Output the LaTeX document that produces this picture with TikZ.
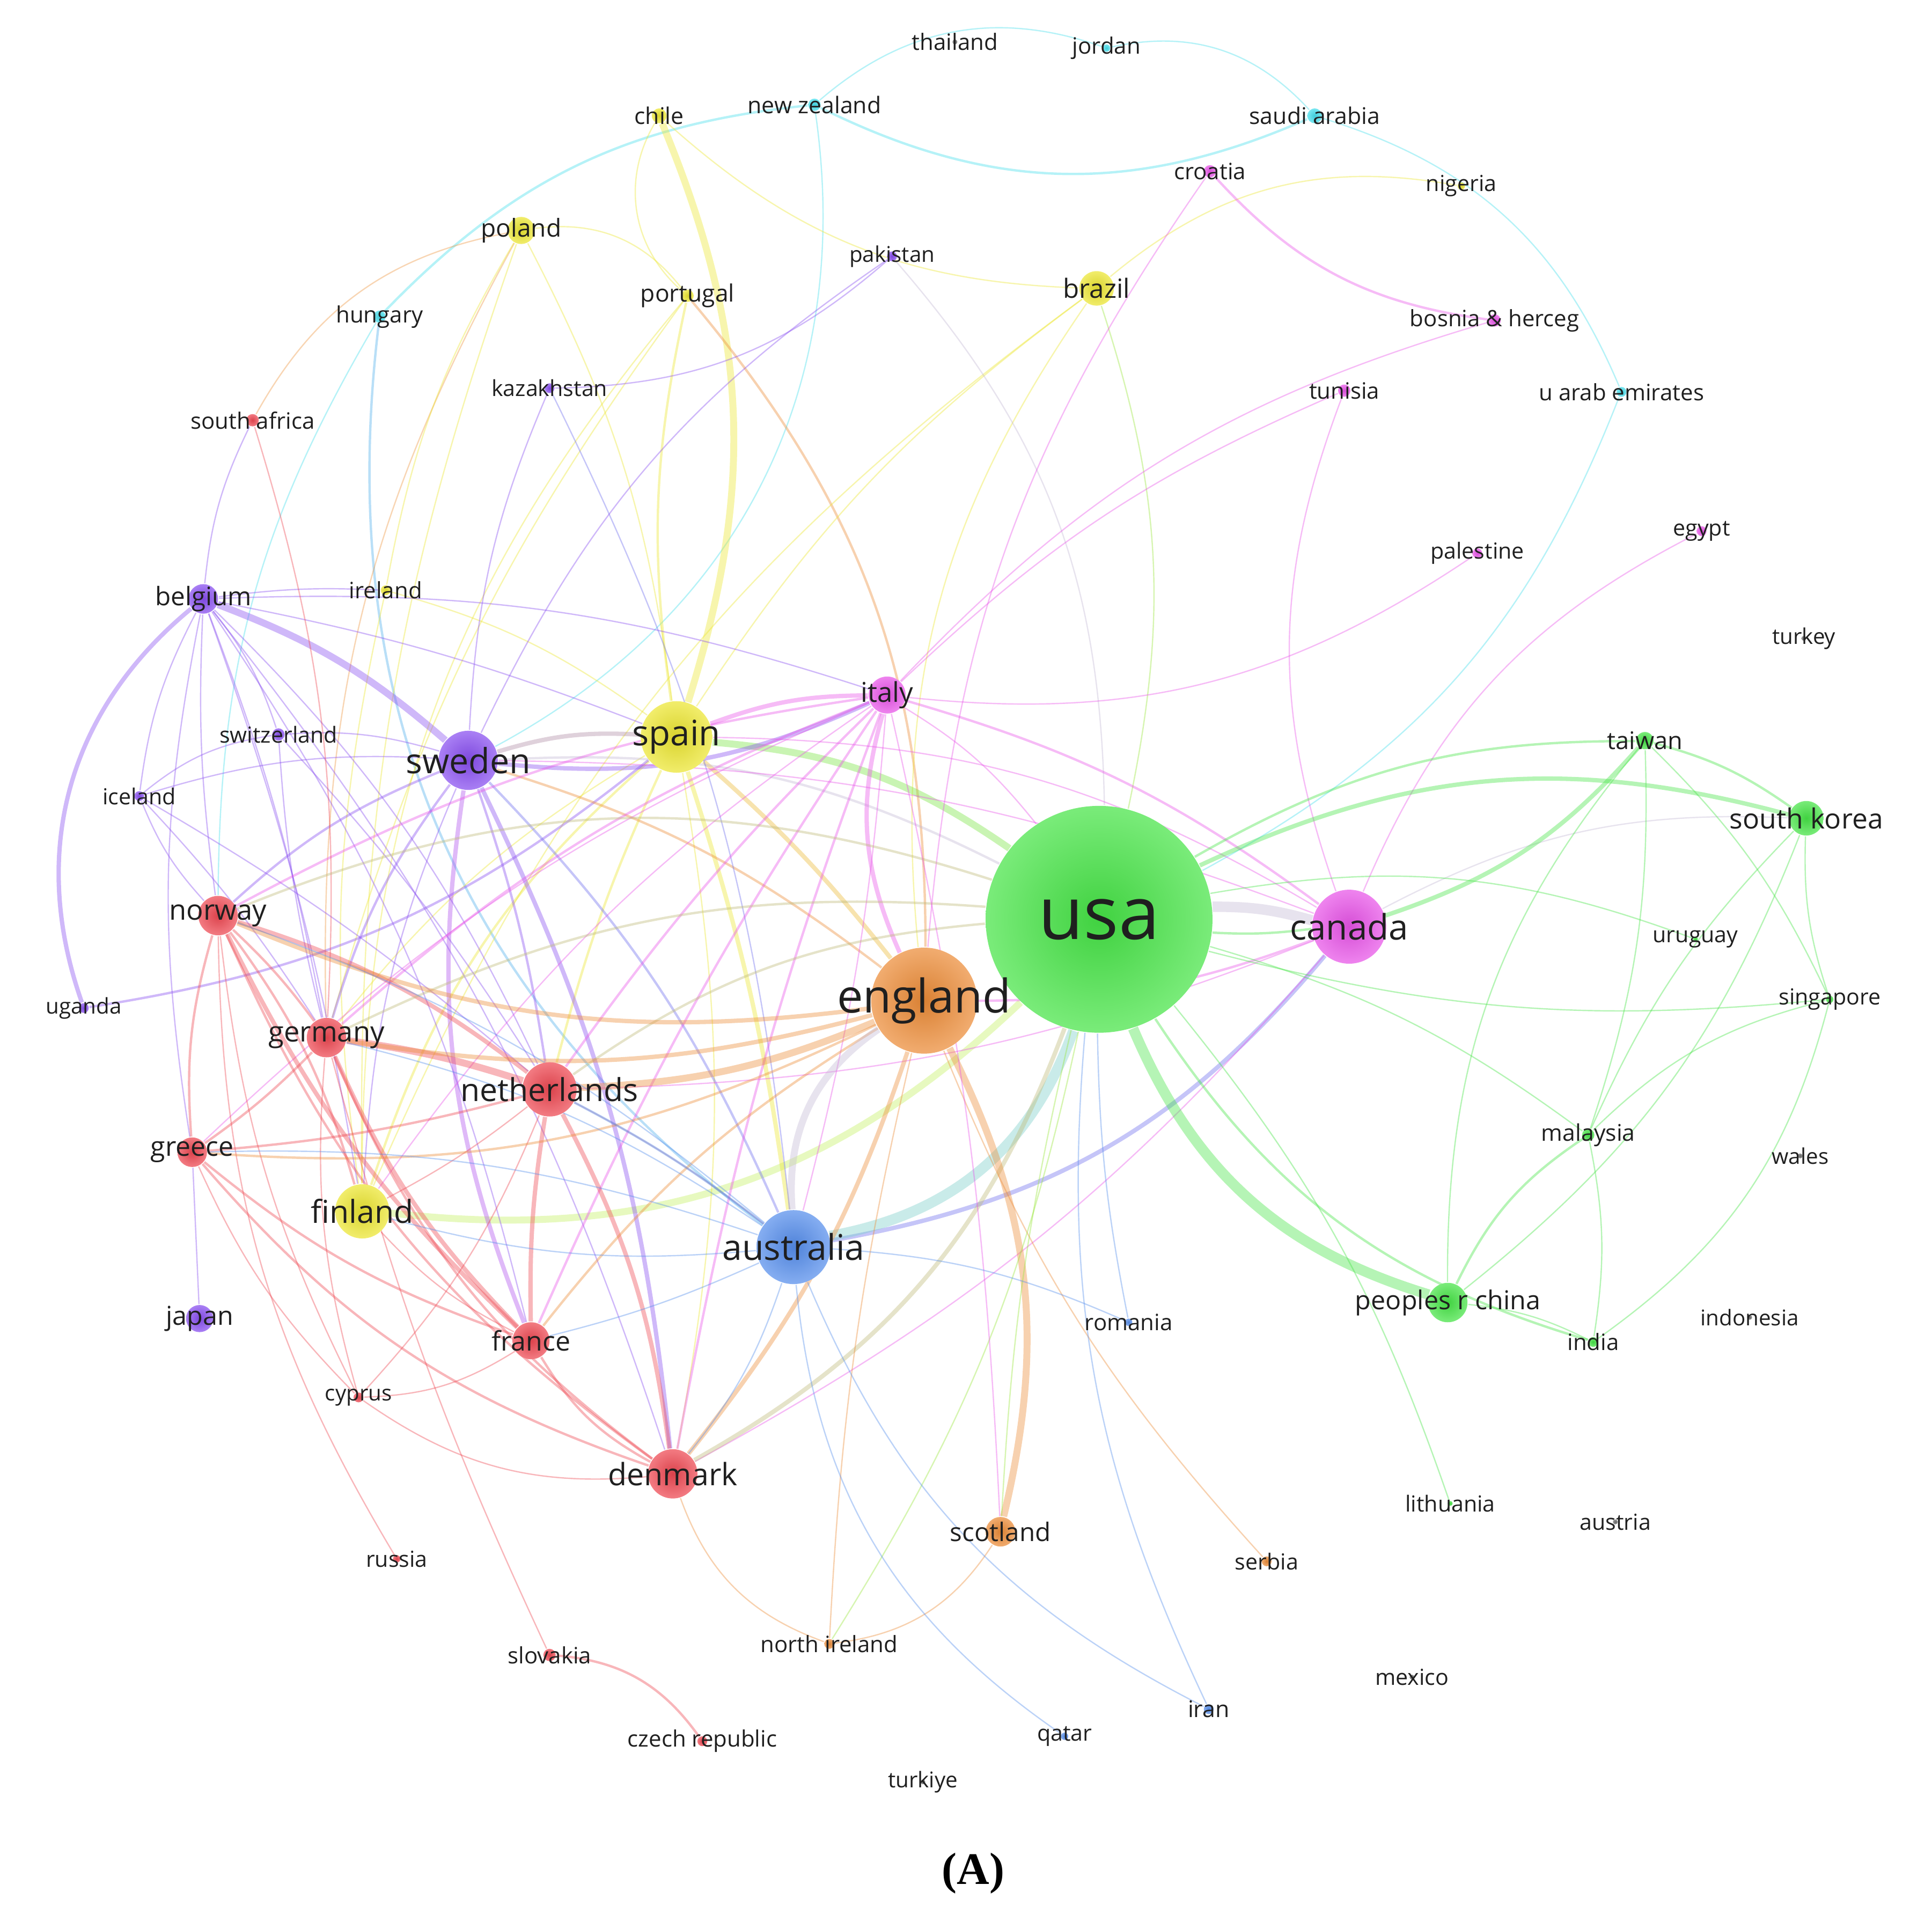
\documentclass[tikz,border=0pt]{standalone}
\usepackage{fontspec}
\setmainfont{Open Sans}
\newfontfamily\capfont{Liberation Serif}
\usetikzlibrary{positioning}
\definecolor{cR}{RGB}{238,72,82}
\definecolor{cG}{RGB}{70,228,70}
\definecolor{cB}{RGB}{86,142,236}
\definecolor{cY}{RGB}{236,230,50}
\definecolor{cP}{RGB}{136,78,240}
\definecolor{cC}{RGB}{70,222,236}
\definecolor{cO}{RGB}{236,140,56}
\definecolor{cM}{RGB}{232,84,232}
\definecolor{cK}{RGB}{110,110,110}
\definecolor{cGray}{RGB}{196,186,212}
\definecolor{cTeal}{RGB}{120,206,200}
\definecolor{cChar}{RGB}{196,240,96}
\definecolor{cOlive}{RGB}{190,186,120}
\pgfdeclarelayer{edges}
\pgfsetlayers{edges,main}

\begin{document}
\begin{tikzpicture}[x=0.01cm, y=-0.01cm,
  cn/.style 2 args={circle, draw=none, inner sep=0pt, minimum size=#1,
    shading=radial, inner color=#2!92!black, outer color=#2!72!white},
  lb/.style={font=\fontsize{#1}{#1}\selectfont, text=black!88, inner sep=0pt,
    minimum size=0pt, fill opacity=1, text opacity=1},
  e1/.style={line width=0.3pt},
  e2/.style={line width=0.55pt},
  e3/.style={line width=1pt},
  e4/.style={line width=1.6pt},
  e5/.style={line width=2.4pt}
]
\useasboundingbox (0,0) rectangle (1568,1565);

% the green cluster
\node[cn={1.84cm}{cG}] (usa) at (892,746) [label={[lb=17]center:usa}] {};
\node[cn={0.32cm}{cG}] (china) at (1175,1057) [label={[lb=6]center:peoples r china}] {};
\node[cn={0.28cm}{cG}] (skorea) at (1466,664) [label={[lb=6.4]center:south korea}] {};
\node[cn={0.14cm}{cG}] (taiwan) at (1335,601) [label={[lb=5.6]center:taiwan}] {};
\node[cn={0.1cm}{cG}] (malaysia) at (1289,921) [label={[lb=5.3]center:malaysia}] {};
\node[cn={0.08cm}{cG}] (india) at (1293,1089) [label={[lb=5.2]center:india}] {};
\node[cn={0.06cm}{cG}] (singapore) at (1485,811) [label={[lb=5.1]center:singapore}] {};
\node[cn={0.04cm}{cG}] (uruguay) at (1376,762) [label={[lb=5.1]center:uruguay}] {};
\node[cn={0.04cm}{cG}] (lithuania) at (1177,1220) [label={[lb=5.1]center:lithuania}] {};

% the orange cluster
\node[cn={0.86cm}{cO}] (england) at (750,812) [label={[lb=10.7]center:england}] {};
\node[cn={0.24cm}{cO}] (scotland) at (812,1243) [label={[lb=5.9]center:scotland}] {};
\node[cn={0.08cm}{cO}] (nireland) at (673,1334) [label={[lb=5.2]center:north ireland}] {};
\node[cn={0.08cm}{cO}] (serbia) at (1028,1267) [label={[lb=5.1]center:serbia}] {};

% the magenta cluster
\node[cn={0.6cm}{cM}] (canada) at (1095,752) [label={[lb=8.1]center:canada}] {};
\node[cn={0.3cm}{cM}] (italy) at (720,564) [label={[lb=6.3]center:italy}] {};
\node[cn={0.1cm}{cM}] (croatia) at (982,139) [label={[lb=5.2]center:croatia}] {};
\node[cn={0.1cm}{cM}] (bosnia) at (1213,260) [label={[lb=5.2]center:bosnia \& herceg}] {};
\node[cn={0.1cm}{cM}] (tunisia) at (1091,317) [label={[lb=5.2]center:tunisia}] {};
\node[cn={0.08cm}{cM}] (palestine) at (1199,449) [label={[lb=5.1]center:palestine}] {};
\node[cn={0.08cm}{cM}] (egypt) at (1381,431) [label={[lb=5.1]center:egypt}] {};

% the blue cluster
\node[cn={0.6cm}{cB}] (australia) at (644,1012) [label={[lb=8.2]center:australia}] {};
\node[cn={0.06cm}{cB}] (romania) at (916,1073) [label={[lb=5.2]center:romania}] {};
\node[cn={0.08cm}{cB}] (iran) at (981,1387) [label={[lb=5.3]center:iran}] {};
\node[cn={0.06cm}{cB}] (qatar) at (864,1409) [label={[lb=5.1]center:qatar}] {};

% the yellow cluster
\node[cn={0.58cm}{cY}] (spain) at (549,598) [label={[lb=8.1]center:spain}] {};
\node[cn={0.44cm}{cY}] (finland) at (294,983) [label={[lb=7.3]center:finland}] {};
\node[cn={0.28cm}{cY}] (brazil) at (890,234) [label={[lb=6.1]center:brazil}] {};
\node[cn={0.22cm}{cY}] (poland) at (423,187) [label={[lb=5.7]center:poland}] {};
\node[cn={0.1cm}{cY}] (portugal) at (558,240) [label={[lb=5.5]center:portugal}] {};
\node[cn={0.12cm}{cY}] (chile) at (535,94) [label={[lb=5.3]center:chile}] {};
\node[cn={0.08cm}{cY}] (ireland) at (313,479) [label={[lb=5.2]center:ireland}] {};
\node[cn={0.06cm}{cY}] (nigeria) at (1186,151) [label={[lb=5.1]center:nigeria}] {};

% the purple cluster
\node[cn={0.48cm}{cP}] (sweden) at (380,617) [label={[lb=8]center:sweden}] {};
\node[cn={0.24cm}{cP}] (belgium) at (165,486) [label={[lb=5.9]center:belgium}] {};
\node[cn={0.22cm}{cP}] (japan) at (162,1070) [label={[lb=6]center:japan}] {};
\node[cn={0.1cm}{cP}] (switzerland) at (226,596) [label={[lb=5.1]center:switzerland}] {};
\node[cn={0.08cm}{cP}] (iceland) at (113,646) [label={[lb=5.1]center:iceland}] {};
\node[cn={0.08cm}{cP}] (uganda) at (68,818) [label={[lb=5]center:uganda}] {};
\node[cn={0.08cm}{cP}] (pakistan) at (724,208) [label={[lb=5]center:pakistan}] {};
\node[cn={0.08cm}{cP}] (kazakhstan) at (446,315) [label={[lb=5.1]center:kazakhstan}] {};

% the red cluster
\node[cn={0.44cm}{cR}] (netherlands) at (446,884) [label={[lb=7.3]center:netherlands}] {};
\node[cn={0.4cm}{cR}] (denmark) at (546,1196) [label={[lb=7.1]center:denmark}] {};
\node[cn={0.32cm}{cR}] (germany) at (265,842) [label={[lb=6.5]center:germany}] {};
\node[cn={0.32cm}{cR}] (norway) at (177,743) [label={[lb=6.5]center:norway}] {};
\node[cn={0.3cm}{cR}] (france) at (431,1088) [label={[lb=6.2]center:france}] {};
\node[cn={0.24cm}{cR}] (greece) at (156,935) [label={[lb=6.2]center:greece}] {};
\node[cn={0.08cm}{cR}] (cyprus) at (291,1134) [label={[lb=5]center:cyprus}] {};
\node[cn={0.06cm}{cR}] (russia) at (322,1265) [label={[lb=5.1]center:russia}] {};
\node[cn={0.1cm}{cR}] (slovakia) at (446,1343) [label={[lb=5.2]center:slovakia}] {};
\node[cn={0.08cm}{cR}] (czech) at (570,1413) [label={[lb=5.2]center:czech republic}] {};
\node[cn={0.1cm}{cR}] (safrica) at (205,341) [label={[lb=5.2]center:south africa}] {};

% the cyan cluster
\node[cn={0.12cm}{cC}] (saudi) at (1067,94) [label={[lb=5.3]center:saudi arabia}] {};
\node[cn={0.1cm}{cC}] (nzealand) at (661,85) [label={[lb=5.3]center:new zealand}] {};
\node[cn={0.06cm}{cC}] (jordan) at (898,39) [label={[lb=5.2]center:jordan}] {};
\node[cn={0.1cm}{cC}] (hungary) at (308,257) [label={[lb=5.2]center:hungary}] {};
\node[cn={0.08cm}{cC}] (uae) at (1316,318) [label={[lb=5.2]center:u arab emirates}] {};

% the unlinked ones
\node[cn={0.04cm}{cK}] (thailand) at (775,34) [label={[lb=5.2]center:thailand}] {};
\node[cn={0.04cm}{cK}] (turkey) at (1464,518) [label={[lb=5]center:turkey}] {};
\node[cn={0.04cm}{cK}] (wales) at (1461,938) [label={[lb=5]center:wales}] {};
\node[cn={0.04cm}{cK}] (indonesia) at (1420,1069) [label={[lb=5]center:indonesia}] {};
\node[cn={0.04cm}{cK}] (austria) at (1311,1235) [label={[lb=5.1]center:austria}] {};
\node[cn={0.04cm}{cK}] (mexico) at (1146,1361) [label={[lb=5.1]center:mexico}] {};
\node[cn={0.04cm}{cK}] (turkiye) at (749,1446) [label={[lb=5]center:turkiye}] {};

\node[font=\capfont\bfseries\fontsize{10.4}{12}\selectfont] (cap) at (790,1520) {(A)};

\begin{pgfonlayer}{edges}
\begin{scope}[opacity=0.4]
% cyan links
\draw[cC, e2] (hungary) to[bend left=20] (nzealand);
\draw[cC, e1] (nzealand) to[bend left=30] (jordan);
\draw[cC, e1] (jordan) to[bend left=30] (saudi);
\draw[cC, e2] (nzealand) to[bend right=25] (saudi);
\draw[cC, e1] (saudi) to[bend left=25] (uae);
\draw[cC, e1] (uae) to[bend left=20] (usa);
\draw[cC, e1] (nzealand) to[bend left=35] (sweden);
\draw[cB!60!cC, e2] (hungary) to[bend right=30] (australia);
\draw[cC, e1] (hungary) to[bend right=15] (norway);

% yellow links
\draw[cY, e4] (chile) to[bend left=20] (spain);
\draw[cY, e1] (chile) to[bend right=40] (portugal);
\draw[cY, e1] (chile) to[bend right=20] (brazil);
\draw[cY, e1] (poland) to[bend left=30] (portugal);
\draw[cY, e1] (poland) to[bend left=10] (spain);
\draw[cY, e1] (poland) to[bend right=10] (finland);
\draw[cY!50!cR, e1] (poland) to[bend right=15] (germany);
\draw[cY!50!cR, e1] (safrica) to[bend left=25] (poland);
\draw[cY, e2] (portugal) to[bend right=10] (spain);
\draw[cY, e1] (portugal) to[bend right=20] (finland);
\draw[cY, e1] (portugal) to[bend right=10] (germany);
\draw[cO, e2] (portugal) to[bend left=20] (england);
\draw[cY, e1] (brazil) to[bend left=25] (nigeria);
\draw[cY!50!cG, e1] (brazil) to[bend left=15] (usa);
\draw[cY, e1] (brazil) to[bend right=20] (england);
\draw[cY, e1] (brazil) to[bend right=10] (spain);
\draw[cY, e1] (brazil) to[bend right=15] (finland);
\draw[cY, e2] (spain) to[bend right=15] (finland);
\draw[cY, e1] (spain) to[bend right=10] (ireland);
\draw[cY, e1] (ireland) to[bend right=10] (finland);
\draw[cY, e1] (ireland) to[bend left=10] (poland);
\draw[cP, e1] (belgium) to[bend left=5] (ireland);
\draw[cChar, e4] (finland) to[bend right=25] (usa);
\draw[cG!70!cY, e4] (spain) to[bend left=15] (usa);
\draw[cY!50!cO, e3] (spain) to[bend left=5] (england);
\draw[cY, e3] (spain) to[bend left=5] (australia);
\draw[cY, e2] (spain) to[bend right=5] (netherlands);
\draw[cY, e1] (spain) to[bend right=10] (germany);
\draw[cY, e1] (spain) to[bend left=10] (denmark);
\draw[cM, e3] (spain) to[bend left=10] (italy);
\draw[cP!60!cY, e3] (spain) to[bend right=10] (sweden);

% purple links
\draw[cP, e4] (sweden) to[bend right=10] (belgium);
\draw[cP, e3] (belgium) to[bend right=35] (uganda);
\draw[cP, e2] (uganda) to[bend right=15] (spain);
\draw[cP, e3] (sweden) to[bend right=15] (italy);
\draw[cP!60!cM, e3] (sweden) to[bend right=15] (france);
\draw[cP, e3] (sweden) to[bend left=10] (denmark);
\draw[cP, e2] (sweden) to[bend left=5] (netherlands);
\draw[cP, e2] (sweden) to[bend right=10] (germany);
\draw[cP, e2] (sweden) to[bend right=10] (norway);
\draw[cP, e1] (sweden) to[bend right=10] (finland);
\draw[cP!50!cB, e2] (sweden) to[bend left=10] (australia);
\draw[cO, e2] (sweden) to[bend left=10] (england);
\draw[cGray, e2] (sweden) to[bend left=15] (usa);
\draw[cP, e1] (belgium) to[bend right=10] (iceland);
\draw[cP, e1] (belgium) to[bend left=10] (switzerland);
\draw[cP, e1] (belgium) to[bend right=5] (norway);
\draw[cP, e1] (belgium) to[bend left=5] (germany);
\draw[cP, e1] (belgium) to[bend left=10] (netherlands);
\draw[cP, e1] (belgium) to[bend right=10] (greece);
\draw[cP, e1] (belgium) to[bend left=5] (finland);
\draw[cP, e1] (belgium) to[bend left=5] (spain);
\draw[cP, e1] (belgium) to[bend left=10] (italy);
\draw[cP, e1] (belgium) to[bend left=10] (france);
\draw[cP, e1] (belgium) to[bend left=10] (denmark);
\draw[cP, e1] (iceland) to[bend left=15] (switzerland);
\draw[cP, e1] (iceland) to[bend right=10] (norway);
\draw[cP, e1] (iceland) to[bend left=5] (netherlands);
\draw[cP, e1] (iceland) to[bend left=10] (sweden);
\draw[cP, e1] (iceland) to[bend left=5] (germany);
\draw[cP, e1] (switzerland) to[bend left=10] (sweden);
\draw[cP, e1] (switzerland) to[bend left=5] (netherlands);
\draw[cP, e1] (switzerland) to[bend right=5] (germany);
\draw[cP, e1] (kazakhstan) to[bend right=20] (pakistan);
\draw[cP, e1] (kazakhstan) to[bend right=10] (sweden);
\draw[cP!50!cB, e1] (kazakhstan) to[bend left=10] (australia);
\draw[cP, e1] (pakistan) to[bend right=15] (sweden);
\draw[cGray, e1] (pakistan) to[bend left=20] (usa);
\draw[cP, e1] (japan) to (greece);

% magenta links
\draw[cM, e2] (croatia) to[bend right=20] (bosnia);
\draw[cM, e1] (croatia) to[bend right=15] (england);
\draw[cM, e1] (bosnia) to[bend right=15] (italy);
\draw[cM, e1] (tunisia) to[bend right=10] (italy);
\draw[cM, e1] (tunisia) to[bend right=20] (canada);
\draw[cM, e1] (egypt) to[bend right=20] (canada);
\draw[cM, e1] (palestine) to[bend left=20] (italy);
\draw[cM, e2] (italy) to[bend left=10] (canada);
\draw[cM, e1] (italy) to[bend left=10] (usa);
\draw[cM, e2] (italy) to[bend right=5] (netherlands);
\draw[cM, e2] (italy) to[bend right=10] (germany);
\draw[cM, e2] (italy) to[bend right=10] (norway);
\draw[cM, e2] (italy) to[bend right=5] (france);
\draw[cM, e2] (italy) to[bend right=5] (denmark);
\draw[cM, e3] (italy) to[bend right=20] (england);
\draw[cM, e1] (italy) to[bend left=5] (australia);
\draw[cM, e1] (italy) to[bend right=10] (finland);
\draw[cM, e1] (italy) to[bend right=10] (greece);
\draw[cP!50!cB, e3] (canada) to[bend left=20] (australia);
\draw[cM, e1] (canada) to[bend right=15] (spain);
\draw[cM, e1] (canada) to[bend left=10] (netherlands);
\draw[cM, e1] (canada) to[bend left=10] (denmark);
\draw[cM, e2] (canada) to[bend left=10] (england);
\draw[cM, e1] (canada) to[bend right=10] (sweden);
\draw[cGray, e1] (canada) to[bend left=15] (skorea);

% green links
\draw[cGray, e5] (usa) to[bend left=8] (canada);
\draw[cG, e2] (usa) to[bend right=5] (canada);
\draw[cG, e5] (usa) to[bend right=25] (china);
\draw[cTeal, e5] (usa) to[bend left=30] (australia);
\draw[cG, e3] (usa) to[bend left=20] (skorea);
\draw[cG, e3] (canada) to[bend right=15] (taiwan);
\draw[cG, e2] (usa) to[bend left=15] (taiwan);
\draw[cG, e2] (taiwan) to[bend left=10] (skorea);
\draw[cG, e1] (taiwan) to[bend right=20] (china);
\draw[cG, e1] (taiwan) to[bend left=10] (malaysia);
\draw[cG, e1] (taiwan) to[bend left=10] (singapore);
\draw[cG, e1] (skorea) to[bend right=10] (singapore);
\draw[cG, e1] (skorea) to[bend left=15] (china);
\draw[cG, e1] (skorea) to[bend right=10] (malaysia);
\draw[cG, e2] (malaysia) to[bend right=15] (china);
\draw[cG, e1] (malaysia) to[bend left=10] (india);
\draw[cG, e1] (malaysia) to[bend left=15] (singapore);
\draw[cG, e1] (china) to[bend left=10] (india);
\draw[cG, e2] (usa) to[bend right=20] (india);
\draw[cG, e1] (usa) to[bend left=10] (malaysia);
\draw[cG, e1] (usa) to[bend right=10] (singapore);
\draw[cG, e1] (usa) to[bend left=15] (uruguay);
\draw[cG, e1] (usa) to[bend left=10] (lithuania);
\draw[cG, e1] (india) to[bend right=20] (singapore);

% red links
\draw[cR, e4] (netherlands) to[bend right=5] (germany);
\draw[cR, e3] (netherlands) to[bend right=10] (norway);
\draw[cR, e3] (netherlands) to[bend right=5] (france);
\draw[cR, e3] (netherlands) to[bend left=10] (denmark);
\draw[cR, e2] (netherlands) to[bend left=5] (greece);
\draw[cR, e1] (netherlands) to[bend left=5] (finland);
\draw[cR, e1] (netherlands) to[bend left=10] (cyprus);
\draw[cR, e2] (germany) to[bend right=5] (norway);
\draw[cR, e2] (germany) to[bend left=5] (greece);
\draw[cR, e3] (germany) to[bend right=10] (france);
\draw[cR, e2] (germany) to[bend right=15] (denmark);
\draw[cR, e2] (norway) to[bend right=10] (greece);
\draw[cR, e3] (norway) to[bend right=10] (france);
\draw[cR, e2] (norway) to[bend right=15] (denmark);
\draw[cR, e2] (norway) to[bend left=10] (finland);
\draw[cR, e1] (norway) to[bend right=10] (cyprus);
\draw[cR, e1] (greece) to[bend right=10] (cyprus);
\draw[cR, e2] (greece) to[bend right=10] (france);
\draw[cR, e2] (greece) to[bend right=15] (denmark);
\draw[cR, e1] (cyprus) to[bend right=15] (france);
\draw[cR, e1] (cyprus) to[bend right=20] (denmark);
\draw[cR, e1] (cyprus) to[bend left=10] (germany);
\draw[cR, e2] (france) to[bend right=15] (denmark);
\draw[cR, e1] (france) to[bend left=10] (finland);
\draw[cR, e1] (russia) to[bend left=15] (norway);
\draw[cR, e1] (slovakia) to[bend left=5] (germany);
\draw[cR, e2] (slovakia) to[bend left=25] (czech);
\draw[cR, e1] (safrica) to[bend left=10] (germany);
\draw[cP, e1] (safrica) to[bend right=10] (belgium);
\draw[cR!50!cB, e1] (netherlands) to[bend left=5] (australia);
\draw[cOlive, e2] (netherlands) to[bend left=15] (usa);
\draw[cOlive, e2] (germany) to[bend left=15] (usa);
\draw[cOlive, e2] (norway) to[bend left=20] (usa);
\draw[cOlive, e3] (denmark) to[bend right=20] (usa);

% orange links
\draw[cO, e4] (england) to[bend left=20] (scotland);
\draw[cO, e4] (netherlands) to[bend right=10] (england);
\draw[cO, e3] (germany) to[bend right=12] (england);
\draw[cO, e3] (norway) to[bend right=15] (england);
\draw[cO, e2] (greece) to[bend right=15] (england);
\draw[cO, e2] (france) to[bend left=10] (england);
\draw[cO, e3] (denmark) to[bend right=10] (england);
\draw[cO, e1] (england) to[bend right=5] (nireland);
\draw[cO, e1] (scotland) to[bend left=25] (nireland);
\draw[cO, e1] (denmark) to[bend right=25] (nireland);
\draw[cO, e1] (england) to[bend right=10] (serbia);
\draw[cY!50!cG, e1] (nireland) to[bend right=10] (usa);
\draw[cY!50!cG, e1] (scotland) to[bend left=5] (usa);
\draw[cM, e1] (scotland) to[bend right=5] (italy);

% blue links
\draw[cGray, e4] (england) to[bend right=30] (australia);
\draw[cB, e2] (australia) to[bend right=5] (netherlands);
\draw[cB, e1] (australia) to[bend right=10] (germany);
\draw[cB, e1] (australia) to[bend right=10] (norway);
\draw[cB, e1] (australia) to[bend left=10] (denmark);
\draw[cB, e1] (australia) to[bend left=5] (france);
\draw[cB, e1] (australia) to[bend right=10] (greece);
\draw[cB, e1] (australia) to[bend right=25] (qatar);
\draw[cB, e1] (australia) to[bend right=20] (iran);
\draw[cB, e1] (australia) to[bend left=10] (romania);
\draw[cB, e1] (usa) to[bend right=15] (iran);
\draw[cB, e1] (usa) to[bend right=5] (romania);
\draw[cB, e1] (australia) to[bend left=10] (finland);
\end{scope}
\end{pgfonlayer}

\end{tikzpicture}
\end{document}
